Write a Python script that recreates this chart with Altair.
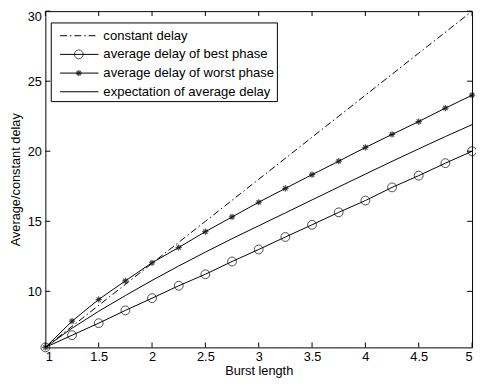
import altair as alt
import pandas as pd

burst = [1, 1.25, 1.5, 1.75, 2, 2.25, 2.5, 2.75, 3, 3.25, 3.5, 3.75, 4, 4.25, 4.5, 4.75, 5]
constant = [6, 7.5, 9, 10.5, 12, 13.5, 15, 16.5, 18, 19.5, 21, 22.5, 24, 25.5, 27, 28.5, 30]
best = [6, 6.87, 7.73, 8.64, 9.51, 10.4, 11.22, 12.13, 12.99, 13.88, 14.75, 15.64, 16.48, 17.42, 18.26, 19.15, 20]
worst = [6, 7.87, 9.42, 10.75, 12.04, 13.13, 14.26, 15.31, 16.36, 17.35, 18.33, 19.29, 20.27, 21.2, 22.12, 23.08, 24]
expect = [6, 7.37, 8.58, 9.7, 10.78, 11.81, 12.8, 13.76, 14.68, 15.6, 16.53, 17.45, 18.37, 19.28, 20.17, 21.05, 21.9]
legend_labels = ["constant delay", "average delay of best phase",
                 "average delay of worst phase", "expectation of average delay"]
x_ticks = [1, 1.5, 2, 2.5, 3, 3.5, 4, 4.5, 5]
y_ticks = [10, 15, 20, 25, 30]

W, H = 434, 342
FONT = "Liberation Sans"
ASTER = "M-1,0L1,0M0,-1L0,1M-0.7,-0.7L0.7,0.7M-0.7,0.7L0.7,-0.7"
DASHDOT = [7, 3, 1.5, 3]

df = pd.DataFrame({"x": burst, "constant": constant, "best": best,
                   "worst": worst, "expect": expect})

xs = alt.Scale(domain=[1, 5], nice=False, zero=False)
ys = alt.Scale(domain=[6, 30], nice=False, zero=False)
xaxis = alt.Axis(values=x_ticks, format="~g", ticks=False, domain=False, grid=False,
                 labelFont=FONT, labelFontSize=13, labelColor="black", labelPadding=3,
                 title="Burst length", titleFont=FONT, titleFontSize=13,
                 titleFontWeight="normal", titleColor="black", titlePadding=2)
yaxis = alt.Axis(values=y_ticks, format="~g", ticks=False, domain=False, grid=False,
                 labelFont=FONT, labelFontSize=13, labelColor="black", labelPadding=4,
                 labelFlush=True,
                 title="Average/constant delay", titleFont=FONT, titleFontSize=13,
                 titleFontWeight="normal", titleColor="black", titlePadding=5)


def X():
    return alt.X("x:Q", scale=xs, axis=xaxis)


def Y(col):
    return alt.Y(f"{col}:Q", scale=ys, axis=yaxis)


base = alt.Chart(df)
layers = [
    base.mark_line(color="black", strokeWidth=1, strokeDash=DASHDOT).encode(x=X(), y=Y("constant")),
    base.mark_line(color="black", strokeWidth=1).encode(x=X(), y=Y("best")),
    base.mark_point(shape="circle", filled=False, color="black", size=81, strokeWidth=1).encode(x=X(), y=Y("best")),
    base.mark_line(color="black", strokeWidth=1).encode(x=X(), y=Y("worst")),
    base.mark_point(shape=ASTER, filled=False, color="black", size=40, strokeWidth=1.2).encode(x=X(), y=Y("worst")),
    base.mark_line(color="black", strokeWidth=1).encode(x=X(), y=Y("expect")),
]

xt = alt.Chart(pd.DataFrame({"x": x_ticks}))
yt = alt.Chart(pd.DataFrame({"v": y_ticks}))
layers += [
    xt.mark_rule(color="black", strokeWidth=1).encode(x=X(), y=alt.value(H), y2=alt.value(H - 5)),
    xt.mark_rule(color="black", strokeWidth=1).encode(x=X(), y=alt.value(0), y2=alt.value(5)),
    yt.mark_rule(color="black", strokeWidth=1).encode(y=Y("v"), x=alt.value(0), x2=alt.value(5)),
    yt.mark_rule(color="black", strokeWidth=1).encode(y=Y("v"), x=alt.value(W - 5), x2=alt.value(W)),
]

one = alt.Chart(pd.DataFrame({"a": [0]}))
layers.append(one.mark_rect(fill="white", stroke="black", strokeWidth=1).encode(
    x=alt.value(6), x2=alt.value(236), y=alt.value(12), y2=alt.value(92)))
rows = [25, 44, 63, 82]
for i, (label, ry) in enumerate(zip(legend_labels, rows)):
    kw = {"strokeDash": DASHDOT} if i == 0 else {}
    layers.append(one.mark_rule(color="black", strokeWidth=1, **kw).encode(
        x=alt.value(15), x2=alt.value(54), y=alt.value(ry)))
    if i == 1:
        layers.append(one.mark_point(shape="circle", filled=False, color="black", size=81,
                                     strokeWidth=1).encode(x=alt.value(34), y=alt.value(ry)))
    if i == 2:
        layers.append(one.mark_point(shape=ASTER, filled=False, color="black", size=40,
                                     strokeWidth=1.2).encode(x=alt.value(34), y=alt.value(ry)))
    layers.append(one.mark_text(align="left", baseline="middle", font=FONT, fontSize=13.3,
                                color="black").encode(x=alt.value(59), y=alt.value(ry),
                                                      text=alt.value(label)))

chart = alt.layer(*layers).properties(
    width=W, height=H, autosize=alt.AutoSizeParams(type="none"),
    padding={"left": 38, "top": 0, "right": 4, "bottom": 32},
    background="white",
).configure_view(stroke="black", strokeWidth=1)

chart.save("out.html", embed_options={"renderer": "svg", "actions": False})
